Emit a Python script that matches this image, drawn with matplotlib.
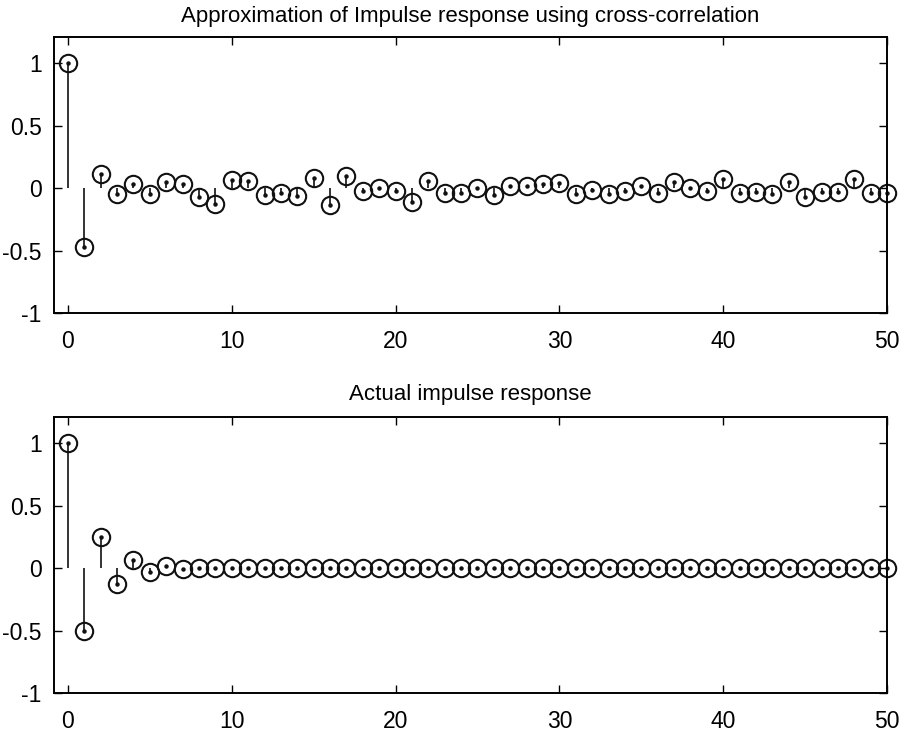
import matplotlib
matplotlib.use("Agg")
import matplotlib.pyplot as plt
import numpy as np

plt.rcParams['font.family'] = ['Liberation Sans', 'DejaVu Sans']

# ---- data ----
n = list(range(0, 51))
approx_h = [1.0, -0.47, 0.11, -0.05, 0.03, -0.05, 0.045, 0.03, -0.075, -0.13,
            0.067, 0.054, -0.054, -0.043, -0.067, 0.085, -0.135, 0.097, -0.02, 0.0,
            -0.025, -0.11, 0.056, -0.043, -0.043, 0.0, -0.056, 0.016, 0.016, 0.03,
            0.043, -0.05, -0.016, -0.045, -0.02, 0.016, -0.038, 0.05, 0.0, -0.025,
            0.075, -0.043, -0.032, -0.05, 0.05, -0.073, -0.03, -0.03, 0.075, -0.038,
            -0.038]
actual_h = [1.0, -0.5, 0.25, -0.125, 0.0625, -0.031, 0.016, -0.008, 0.004, -0.002,
            0.001, 0.0005, 0.0, 0.0, 0.0, 0.0, 0.0, 0.0, 0.0, 0.0,
            0.0, 0.0, 0.0, 0.0, 0.0, 0.0, 0.0, 0.0, 0.0, 0.0,
            0.0, 0.0, 0.0, 0.0, 0.0, 0.0, 0.0, 0.0, 0.0, 0.0,
            0.0, 0.0, 0.0, 0.0, 0.0, 0.0, 0.0, 0.0, 0.0, 0.0,
            0.0]
titles = ["Approximation of Impulse response using cross-correlation",
          "Actual impulse response"]
xticks = [0, 10, 20, 30, 40, 50]
yticks = [-1, -0.5, 0, 0.5, 1]
ytick_labels = ["-1", "-0.5", "0", "0.5", "1"]

fig = plt.figure(figsize=(9.02, 7.33), dpi=100)
ax1 = fig.add_axes([0.0599, 0.573, 0.9235, 0.3765])
ax2 = fig.add_axes([0.0599, 0.0546, 0.9235, 0.3765])

for ax, vals, title, pad in [(ax1, approx_h, titles[0], 11), (ax2, actual_h, titles[1], 12)]:
    markerline, stemlines, baseline = ax.stem(n, vals, linefmt='k-', markerfmt='ko', basefmt=' ')
    markerline.set_markerfacecolor('none')
    markerline.set_markeredgecolor('#111111')
    markerline.set_markersize(12.5)
    markerline.set_markeredgewidth(1.5)
    stemlines.set_linewidth(1.2)
    stemlines.set_color('#111111')
    markerline.set_clip_on(False)
    # tiny stem-end dot at the centre of each circle (as in the original rendering)
    ax.plot(n, vals, linestyle='none', marker='o', markersize=2.2,
            color='#111111', clip_on=False)
    ax.set_xlim(-0.85, 50)
    ax.set_ylim(-1, 1.21)
    ax.set_xticks(xticks)
    ax.set_yticks(yticks)
    ax.set_yticklabels(ytick_labels)
    ax.tick_params(direction='in', length=6, width=1.0, top=True, right=True,
                   labelsize=16.5)
    ax.tick_params(axis='x', pad=12)
    ax.tick_params(axis='y', pad=9)
    for s in ax.spines.values():
        s.set_linewidth(1.4)
    ax.set_title(title, fontsize=16, pad=pad)

fig.savefig("out.png", dpi=100)
